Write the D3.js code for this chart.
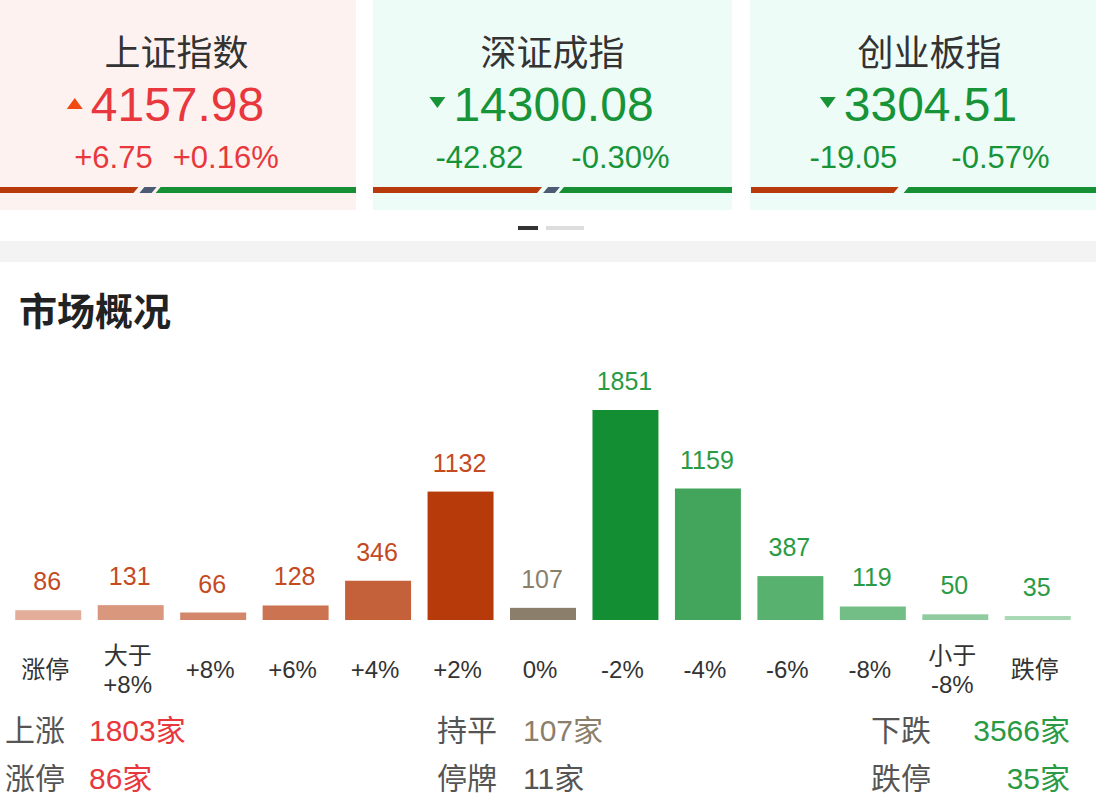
<!DOCTYPE html>
<html><head><meta charset="utf-8">
<script src="https://cdn.jsdelivr.net/npm/d3@7"></script>
<style>
html,body{margin:0;padding:0;background:#fff;}
svg{display:block;font-family:"Liberation Sans","Noto Sans CJK SC",sans-serif;}
</style></head><body>
<svg id="c" width="1096" height="810"></svg>
<script>
// ---- Data ----
const indexNames = ["上证指数", "深证成指", "创业板指"];
const indexValues = ["4157.98", "14300.08", "3304.51"];
const indexChanges = ["+6.75", "-42.82", "-19.05"];
const indexPcts = ["+0.16%", "-0.30%", "-0.57%"];
const indexDirs = ["up", "down", "down"];
const indexUpShare = [0.38, 0.457, 0.40];
const indexFlatShare = [0.034, 0.033, 0];

const sectionTitle = "市场概况";
const categories = ["涨停", "大于\n+8%", "+8%", "+6%", "+4%", "+2%", "0%", "-2%", "-4%", "-6%", "-8%", "小于\n-8%", "跌停"];
const counts = [86, 131, 66, 128, 346, 1132, 107, 1851, 1159, 387, 119, 50, 35];
const groups = ["up","up","up","up","up","up","flat","down","down","down","down","down","down"];

const summaryLabels = [["上涨","涨停"],["持平","停牌"],["下跌","跌停"]];
const summaryValues = [["1803家","86家"],["107家","11家"],["3566家","35家"]];
const summaryKinds = [["up","up"],["flat","neutral"],["down","down"]];

// ---- Styles ----
const barPalette = ["#e3ae99","#d9977d","#d3866a","#cc7452","#c4613b","#b73a0a","#8b7f6b","#138e32","#42a55b","#58b16f","#73bd86","#8fcb9e","#a9d8b5"];
const labelColor = {up:"#c44a1f", flat:"#8b7f6b", down:"#2a9a44"};
const sumColor = {up:"#e8383d", flat:"#8b7f6b", down:"#2a9a44", neutral:"#555"};

const svg = d3.select("#c");

// ---- Index cards ----
const cardX = [-3, 373, 750];
const cardW = [359, 359, 359];
const cardBg = {up:"#fdf2ef", down:"#eefcf8"};
const valColor = {up:"#e8383d", down:"#179438"};
const triColor = {up:"#f04a12", down:"#179438"};
const changeGap = [20, 48, 54];

indexNames.forEach((name,i)=>{
  const g = svg.append("g").attr("transform",`translate(${cardX[i]},0)`);
  const w = cardW[i], c = w/2, dir = indexDirs[i];
  g.append("rect").attr("width",w).attr("height",210).attr("fill",cardBg[dir]);
  g.append("text").attr("x",c).attr("y",66).attr("text-anchor","middle")
    .attr("font-family","Noto Sans CJK SC").attr("font-size",36).attr("fill","#333").text(name);
  const vt = g.append("text").attr("y",121).attr("font-size",48).attr("fill",valColor[dir]).text(indexValues[i]);
  const vw = vt.node().getComputedTextLength();
  const total = 16 + 8 + vw;
  const sx = c - 11 - total/2;
  vt.attr("x", sx + 24);
  const ty = 104;
  const tri = dir==="up" ? `M${sx},${ty+5}L${sx+16},${ty+5}L${sx+8},${ty-6}Z` : `M${sx},${ty-7}L${sx+16},${ty-7}L${sx+8},${ty+4}Z`;
  g.append("path").attr("d",tri).attr("fill",triColor[dir]);
  const t1 = g.append("text").attr("y",168).attr("font-size",31).attr("fill",valColor[dir]).text(indexChanges[i]);
  const t2 = g.append("text").attr("y",168).attr("font-size",31).attr("fill",valColor[dir]).text(indexPcts[i]);
  const w1 = t1.node().getComputedTextLength(), w2 = t2.node().getComputedTextLength();
  const gw = w1 + changeGap[i] + w2;
  const x1 = c - gw/2;
  t1.attr("x", x1); t2.attr("x", x1 + w1 + changeGap[i]);
  // breadth bar
  const by = 187, bh = 6, sl = 5;
  const xr = w*indexUpShare[i];
  const xf = w*indexFlatShare[i];
  const pad = i===2 ? 1 : 0;
  g.append("path").attr("d",`M${pad},${by}L${xr+sl},${by}L${xr},${by+bh}L${pad},${by+bh}Z`).attr("fill","#b83a0c");
  let gx = xr + 6;
  if (xf > 0) {
    g.append("path").attr("d",`M${gx+sl},${by}L${gx+xf+sl},${by}L${gx+xf},${by+bh}L${gx},${by+bh}Z`).attr("fill","#4d5a73");
    gx = gx + xf + 4;
  } else gx = gx + 4;
  g.append("path").attr("d",`M${gx+sl},${by}L${w},${by}L${w},${by+bh}L${gx},${by+bh}Z`).attr("fill","#168f35");
});

// pager
svg.append("rect").attr("x",518).attr("y",226).attr("width",20).attr("height",4).attr("fill","#333");
svg.append("rect").attr("x",546).attr("y",226).attr("width",38).attr("height",4).attr("fill","#ddd");
// gray band
svg.append("rect").attr("x",0).attr("y",241).attr("width",1096).attr("height",21).attr("fill","#f3f3f3");

// section title
svg.append("text").attr("x",19).attr("y",325).attr("font-family","Noto Sans CJK SC").attr("font-weight","bold")
  .attr("font-size",38).attr("fill","#222").text(sectionTitle);

// ---- Bar chart ----
const x = d3.scaleBand().domain(categories).range([7, 1079]).paddingInner(0.2).paddingOuter(0.1);
const y = d3.scaleLinear().domain([0, d3.max(counts)]).range([620, 410]);

const bars = svg.append("g");
bars.selectAll("rect").data(counts).join("rect")
  .attr("x",(d,i)=>x(categories[i])).attr("width",x.bandwidth())
  .attr("y",d=>y(d)).attr("height",d=>y(0)-y(d))
  .attr("fill",(d,i)=>barPalette[i]);
bars.selectAll("text.v").data(counts).join("text").attr("class","v")
  .attr("x",(d,i)=>x(categories[i])+x.bandwidth()/2-1).attr("y",d=>y(d)-20)
  .attr("text-anchor","middle").attr("font-size",25).attr("fill",(d,i)=>labelColor[groups[i]]).text(d=>d);

const cat = svg.append("g");
categories.forEach((cname,i)=>{
  const lines = cname.split("\n");
  const cx = x(cname)+x.bandwidth()/2-3;
  const t = cat.append("text").attr("x",cx).attr("text-anchor","middle").attr("font-size",24).attr("fill","#333")
    .attr("font-family","'Liberation Sans','Noto Sans CJK SC'");
  if (lines.length===1) t.append("tspan").attr("x",cx).attr("y",678).text(lines[0]);
  else { t.append("tspan").attr("x",cx).attr("y",664).text(lines[0]); t.append("tspan").attr("x",cx).attr("y",693).text(lines[1]); }
});

// ---- Summary ----
const colLabelX = [5, 437, 871];
const colValX = [89, 523, 1070];
const rowY = [741, 789];
summaryLabels.forEach((col,ci)=>{
  col.forEach((lab,ri)=>{
    svg.append("text").attr("x",colLabelX[ci]).attr("y",rowY[ri]).attr("font-family","Noto Sans CJK SC")
      .attr("font-size",30).attr("fill","#555").text(lab);
    svg.append("text").attr("x",colValX[ci]).attr("y",rowY[ri]).attr("text-anchor",ci===2?"end":"start")
      .attr("font-size",30).attr("fill",sumColor[summaryKinds[ci][ri]])
      .attr("font-family","'Liberation Sans','Noto Sans CJK SC'").text(summaryValues[ci][ri]);
  });
});
</script></body></html>
